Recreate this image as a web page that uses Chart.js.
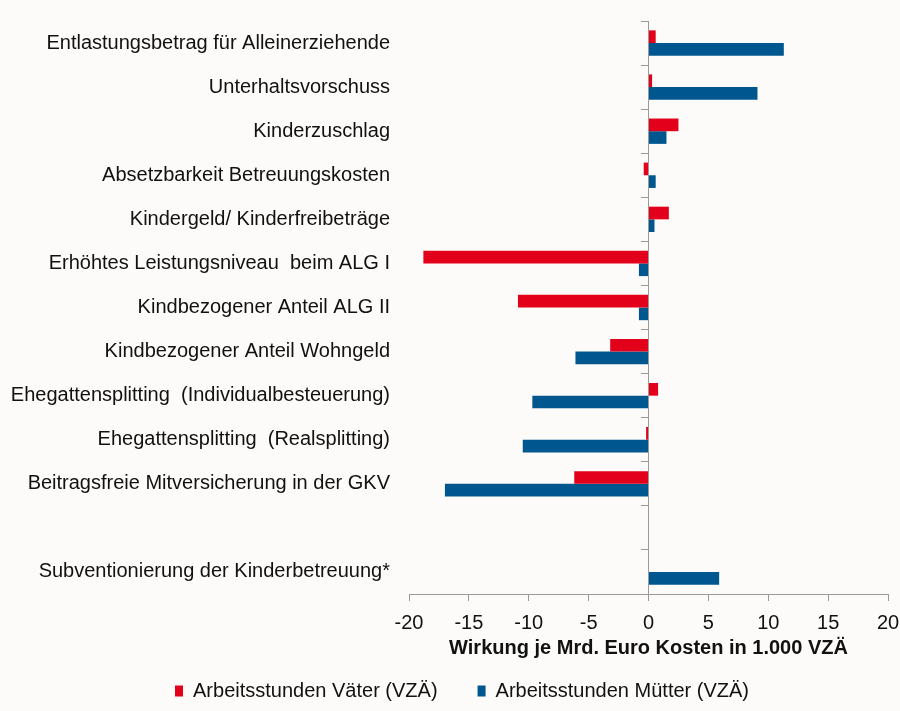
<!DOCTYPE html>
<html lang="de">
<head>
<meta charset="utf-8">
<title>Wirkung je Mrd. Euro Kosten</title>
<script src="https://cdn.jsdelivr.net/npm/chart.js@4.4.1/dist/chart.umd.min.js"></script>
<style>
  html, body { margin: 0; padding: 0; background: #fcfbf9; }
  #wrap { width: 900px; height: 711px; }
</style>
</head>
<body>
<div id="wrap"><canvas id="wirkung"></canvas></div>
<script>
const massnahmen = [
    "Entlastungsbetrag für Alleinerziehende",
    "Unterhaltsvorschuss",
    "Kinderzuschlag",
    "Absetzbarkeit Betreuungskosten",
    "Kindergeld/ Kinderfreibeträge",
    "Erhöhtes Leistungsniveau  beim ALG I",
    "Kindbezogener Anteil ALG II",
    "Kindbezogener Anteil Wohngeld",
    "Ehegattensplitting  (Individualbesteuerung)",
    "Ehegattensplitting  (Realsplitting)",
    "Beitragsfreie Mitversicherung in der GKV",
    "",
    "Subventionierung der Kinderbetreuung*"
];

// Wirkung je Mrd. Euro Kosten in 1.000 Vollzeitäquivalenten
const vaeter = [0.6, 0.3, 2.5, -0.4, 1.7, -18.8, -10.9, -3.2, 0.8, -0.2, -6.2, null, null];
const muetter = [11.3, 9.1, 1.5, 0.6, 0.5, -0.8, -0.8, -6.1, -9.7, -10.5, -17.0, null, 5.9];

const xTicks = { min: -20, max: 20, step: 5 };

const schrift = { family: "'Liberation Sans', Arial, sans-serif", size: 20 };
const achsenGrau = "#9a9a9a";

// Legende etwas nach rechts schieben
const legendeVersatz = {
    id: "legendeVersatz",
    afterLayout: function (chart) {
        chart.legend.left += 12;
        chart.legend.right += 12;
    }
};

document.addEventListener("DOMContentLoaded", function () {
    const ctx = document.getElementById("wirkung").getContext("2d");

    new Chart(ctx, {
        type: "bar",
        data: {
            labels: massnahmen,
            datasets: [{
                label: "Arbeitsstunden Väter (VZÄ)",
                data: vaeter,
                backgroundColor: "#e3001b",
                borderWidth: 0,
                barPercentage: 1,
                categoryPercentage: 0.575
            }, {
                label: "Arbeitsstunden Mütter (VZÄ)",
                data: muetter,
                backgroundColor: "#00568f",
                borderWidth: 0,
                barPercentage: 1,
                categoryPercentage: 0.575
            }]
        },
        plugins: [legendeVersatz],
        options: {
            indexAxis: "y",
            responsive: true,
            maintainAspectRatio: false,
            animation: false,
            layout: { padding: { top: 21, right: 0, left: 0 } },
            scales: {
                x: {
                    type: "linear",
                    min: xTicks.min,
                    max: xTicks.max,
                    ticks: {
                        stepSize: xTicks.step,
                        color: "#111",
                        font: schrift,
                        padding: 10
                    },
                    grid: {
                        drawOnChartArea: false,
                        drawTicks: true,
                        tickLength: 7,
                        color: achsenGrau
                    },
                    border: { color: achsenGrau, width: 1 },
                    title: {
                        display: true,
                        text: "Wirkung je Mrd. Euro Kosten in 1.000 VZÄ",
                        color: "#111",
                        font: { family: schrift.family, size: 20, weight: "bold" },
                        padding: { top: 0, bottom: 11 }
                    },
                    afterFit: function (scale) {
                        scale.height = 77;
                        scale.paddingRight = 12;
                    }
                },
                y: {
                    type: "category",
                    position: "left",
                    offset: true,
                    grid: { display: false },
                    border: { display: false },
                    ticks: {
                        color: "#111",
                        font: schrift,
                        padding: 11,
                        autoSkip: false
                    },
                    afterFit: function (scale) {
                        scale.width = 409;
                        scale.paddingTop = 0;
                        scale.paddingBottom = 0;
                    }
                },
                // Nulllinie mit Kategorie-Teilstrichen
                y2: {
                    type: "category",
                    labels: massnahmen,
                    position: { x: 0 },
                    offset: true,
                    ticks: { display: false },
                    grid: {
                        offset: true,
                        drawOnChartArea: false,
                        drawTicks: true,
                        tickLength: 7,
                        color: achsenGrau
                    },
                    border: { color: achsenGrau, width: 1 }
                }
            },
            plugins: {
                legend: {
                    display: true,
                    position: "bottom",
                    labels: {
                        color: "#111",
                        font: schrift,
                        boxWidth: 8,
                        boxHeight: 11,
                        padding: 10,
                        generateLabels: function (chart) {
                            const items = Chart.defaults.plugins.legend.labels.generateLabels(chart);
                            // etwas mehr Abstand zwischen den beiden Einträgen
                            items[0].text += "\u2002\u2002\u2002";
                            return items;
                        }
                    }
                },
                tooltip: { enabled: false }
            }
        }
    });
});
</script>
</body>
</html>
